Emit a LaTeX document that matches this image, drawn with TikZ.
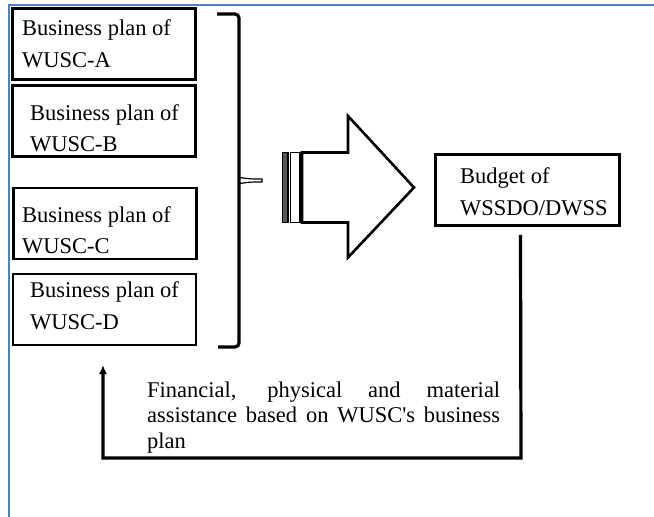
\documentclass[tikz,border=0pt]{standalone}
\usepackage{fontspec}
\setmainfont{Liberation Serif}[Ligatures=TeXOff]
\usetikzlibrary{arrows.meta}
\definecolor{frameblue}{RGB}{79,129,189}
\begin{document}
\begin{tikzpicture}[x=1pt,y=-1pt,
  planbox/.style={draw, line width=2.8pt, inner sep=0pt,
    minimum width=183pt, minimum height=71pt},
  boxtext/.style={anchor=base west, inner sep=0pt, align=left,
    font=\fontsize{22.5}{31.5}\selectfont},
  heavy/.style={line width=3.2pt},
  outline/.style={draw, line width=2.6pt, line join=miter}]
\useasboundingbox (0,0) rectangle (654,517);

% page frame
\draw[frameblue, line width=2.2pt] (9,517) -- (9,5) -- (654,5);

% business plan boxes (text anchored on the baseline of its last line)
\node[planbox] (planA) at (104,44) {};
\node[planbox] (planB) at (104,121) {};
\node[planbox] (planC) at (105,223.5) {};
\node[planbox] (planD) at (104.5,309.5) {};
\node[boxtext] (txtA) at (22,67) {Business plan of\\WUSC-A};
\node[boxtext] (txtB) at (30,151.5) {Business plan of\\WUSC-B};
\node[boxtext] (txtC) at (22,253.5) {Business plan of\\WUSC-C};
\node[boxtext] (txtD) at (30,329) {Business plan of\\WUSC-D};

% budget box
\node[planbox, minimum width=184pt] (budget) at (527.5,190) {};
\node[boxtext] (txtBudget) at (460,215) {Budget of\\WSSDO/DWSS};

% curly bracket grouping the plans
\draw[heavy, rounded corners=4pt] (217,14) -- (239,14) -- (239,347) -- (218,347);
\draw[line width=1.2pt, fill=white] (240,177.5) .. controls (250,179) .. (262,179)
  -- (262,182) .. controls (250,182) .. (240,183.5) -- cycle;

% block arrow with two bars
\draw[outline, fill=black!65, line width=1.6pt] (282.5,152.5) rectangle (288,222.5);
\draw[outline, fill=white, line width=1.6pt] (290.5,152.5) rectangle (300,222.5);
\draw[outline] (302,152.5) -- (348,152.5) -- (348,116) -- (414,187.5)
  -- (348,257.5) -- (348,222.5) -- (302,222.5) -- cycle;

% feedback connector
\coordinate (corner) at (521,458);
\coordinate (assistEnd) at (103,365);
\draw[heavy, -{Latex[length=9pt,width=8pt]}]
  ([xshift=-7pt,yshift=-8pt]budget.south) -- (corner) -| (assistEnd);

\node[anchor=base west, inner sep=0pt, text width=353pt, align=justify,
  font=\fontsize{22.5}{25.5}\selectfont] (assist) at (147,397)
  {Financial, physical and material\linebreak assistance based on WUSC's business\linebreak plan};
\end{tikzpicture}
\end{document}
